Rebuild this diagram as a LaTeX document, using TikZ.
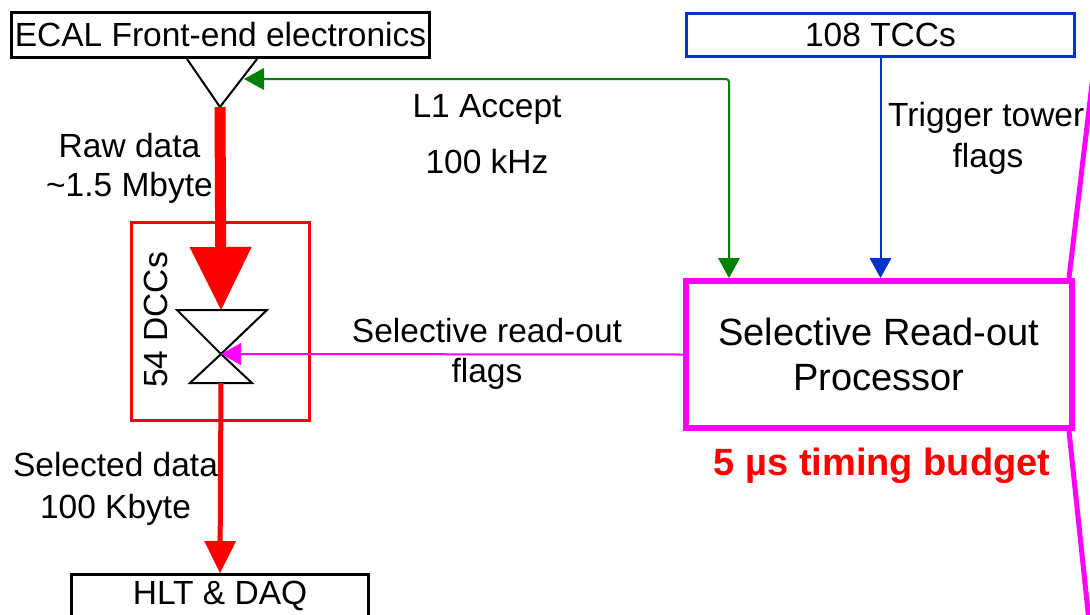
\documentclass[tikz,border=0pt]{standalone}
\usepackage{fontspec}
\setmainfont{Liberation Sans}
\usetikzlibrary{arrows.meta}
\definecolor{srpmag}{RGB}{255,0,255}
\definecolor{tccblue}{RGB}{0,51,204}
\definecolor{lonegreen}{RGB}{0,128,0}
\tikzset{
  labeltext/.style={font=\fontsize{33.5}{40}\selectfont, inner sep=0pt, align=center},
  blackbox/.style={draw=black, line width=3pt, fill=white, inner sep=0pt, font=\fontsize{33.5}{40}\selectfont},
  tccbox/.style={draw=tccblue, line width=3pt, fill=white, inner sep=0pt, font=\fontsize{33.5}{40}\selectfont},
  dccbox/.style={draw=red, line width=3pt, inner sep=0pt},
  srpbox/.style={draw=srpmag, line width=6pt, fill=white, inner sep=0pt, align=center, font=\fontsize{38}{45}\selectfont},
  thinhead/.style={-{Triangle[width=22pt,length=20pt,line width=0pt]}},
  mixer/.style={draw=black, line width=2pt, fill=white, line join=miter}
}
\begin{document}
\begin{tikzpicture}[x=1pt, y=-1pt]
\useasboundingbox (0,0) rectangle (1090,614);
\clip (0,0) rectangle (1090,614);

% boxes
\node[blackbox, minimum width=418pt, minimum height=45pt] (ecal) at (220.5,35) {ECAL Front-end electronics};
\node[tccbox, minimum width=388pt, minimum height=43pt] (tcc) at (880.5,35) {108 TCCs};
\node[srpbox, minimum width=386pt, minimum height=147pt] (srp) at (879,354.5) {Selective Read-out\\Processor};
\node[dccbox, minimum width=178pt, minimum height=198pt] (dcc) at (220.5,321.5) {};
\node[blackbox, minimum width=297pt, minimum height=43pt] (hlt) at (220,596) {HLT \& DAQ};

% key points of the front-end funnel and the DCC mixer
\coordinate (fl) at (187,59);
\coordinate (fr) at (257,59);
\coordinate (fa) at (220,107);
\coordinate (mtl) at (177,310);
\coordinate (mtr) at (267,310);
\coordinate (mc) at (221,354);
\coordinate (mbl) at (190,383);
\coordinate (mbr) at (252,383);
\coordinate (mtop) at (221,310);
\coordinate (mbot) at (221,383);
\coordinate (gtip) at (244,79);
\coordinate (gdown) at (729,278);
\coordinate (zt) at (1102,0);
\coordinate (zb) at (1091,640);

% labels
\node[labeltext] (raw) at (129.5,168.5) {Raw data\\[-1pt]\textasciitilde1.5 Mbyte};
\node[labeltext] (l1) at (487,109) {L1 Accept};
\node[labeltext] (rate) at (487,162) {100 kHz};
\node[labeltext] (srflags) at (487,354) {Selective read-out\\flags};
\node[labeltext, anchor=west] (ttf) at (888,118) {Trigger tower};
\node[labeltext] (ttf2) at (988,159) {flags};
\node[labeltext] (sel) at (115.5,489) {Selected data\\[2pt]100 Kbyte};
\node[labeltext, rotate=90] (dccname) at (156,320) {54 DCCs};
\node[font=\fontsize{38}{45}\selectfont\bfseries, text=red, inner sep=0pt] (budget) at (882,466) {5 µs timing budget};

% funnel of the front-end electronics
\draw[line width=2pt, line join=miter] (fl) -- (fa) -- (fr);

% raw data flow into the DCCs
\draw[red, line width=11pt, -{Triangle[width=62pt,length=63pt,line width=0pt]}] (fa) -- (mtop);

% DCC mixer
\draw[mixer] (mtl) -- (mtr) -- (mc) -- cycle;
\draw[mixer] (mbl) -- (mbr) -- (mc) -- cycle;

% selected data to HLT
\draw[red, line width=5pt, -{Triangle[width=32pt,length=32pt,line width=0pt]}] (mbot) -- (hlt.north);

% L1 accept distribution
\draw[lonegreen, line width=2pt, rounded corners=3pt, {Triangle[width=22pt,length=20pt,line width=0pt]}-{Triangle[width=22pt,length=20pt,line width=0pt]}] (gtip) -| (gdown);

% trigger tower flags
\draw[tccblue, line width=2pt, thinhead] (tcc.south) -- (tcc.south |- srp.north);

% selective read-out flags
\draw[srpmag, line width=2pt, thinhead] (srp.west) -- (mc);

% zoom lines leaving the processor box
\draw[srpmag, line width=5pt] ([xshift=-6pt]srp.north east) -- (zt);
\draw[srpmag, line width=5pt] ([xshift=-6pt]srp.south east) -- (zb);
\end{tikzpicture}
\end{document}
